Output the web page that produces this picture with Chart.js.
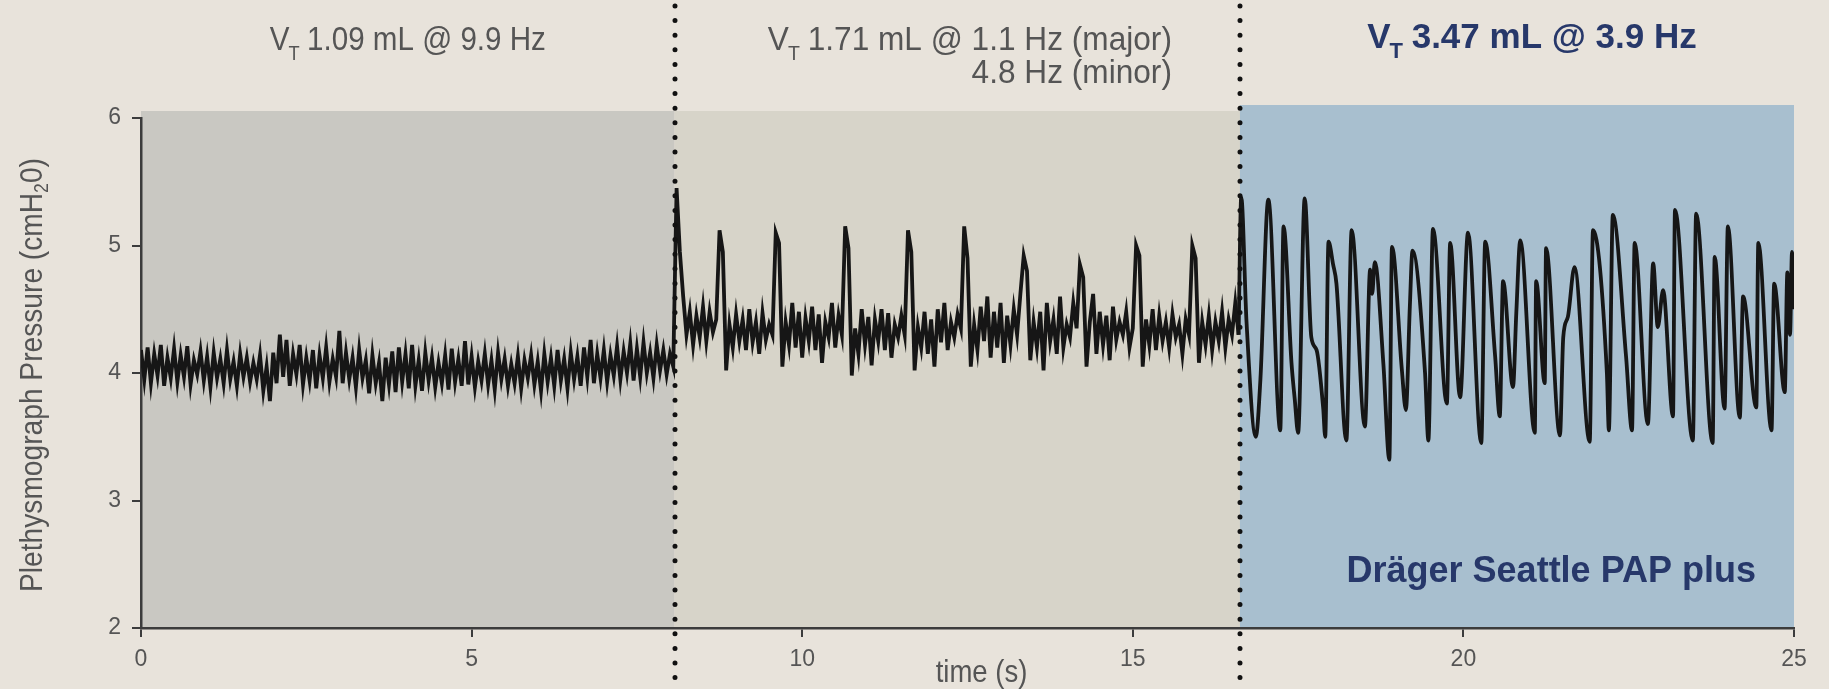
<!DOCTYPE html>
<html>
<head>
<meta charset="utf-8">
<script src="https://cdn.jsdelivr.net/npm/chart.js@4.4.1/dist/chart.umd.min.js"></script>
<style>
  html, body { margin: 0; padding: 0; background: #e8e3db; }
  #wrap { width: 1829px; height: 689px; }
</style>
</head>
<body>
<div id="wrap"><canvas id="plot" width="1829" height="689"></canvas></div>
<script>
// ---- data ----
// segment 1: 1.09 mL @ 9.9 Hz, one sample every 0.05 s from t = 0
const seg1Start = 0;
const seg1Step = 0.05;
const seg1Values = [
  4.18, 3.95, 4.20, 3.92, 4.15, 3.98, 4.22, 3.90, 4.12, 3.96,
  4.19, 3.93, 4.14, 3.97, 4.21, 3.91, 4.10, 3.99, 4.17, 3.94,
  4.13, 3.89, 4.16, 3.96, 4.11, 3.92, 4.18, 3.95, 4.09, 3.90,
  4.15, 3.97, 4.12, 3.93, 4.08, 3.95, 4.14, 3.86, 4.05, 3.78,
  4.16, 3.92, 4.30, 3.97, 4.26, 3.90, 4.15, 3.99, 4.22, 3.91,
  4.12, 3.94, 4.18, 3.88, 4.14, 3.96, 4.20, 3.93, 4.11, 3.97,
  4.33, 3.92, 4.16, 3.95, 4.12, 3.89, 4.18, 3.96, 4.10, 3.84,
  4.14, 3.92, 4.08, 3.78, 4.12, 3.91, 4.17, 3.85, 4.20, 3.93,
  4.15, 3.88, 4.22, 3.90, 4.10, 3.86, 4.16, 3.94, 4.12, 3.89,
  4.08, 3.92, 4.14, 3.87, 4.19, 3.93, 4.11, 3.90, 4.25, 3.91,
  4.13, 3.89, 4.09, 3.94, 4.15, 3.91, 4.10, 3.87, 4.16, 3.95,
  4.11, 3.90, 4.07, 3.92, 4.13, 3.88, 4.10, 3.96, 4.14, 3.91,
  4.09, 3.86, 4.15, 3.93, 4.12, 3.90, 4.18, 3.94, 4.11, 3.88,
  4.16, 3.95, 4.13, 3.90, 4.20, 3.97, 4.26, 3.92, 4.15, 3.96,
  4.18, 3.93, 4.14, 3.98, 4.21, 3.95, 4.17, 4.00, 4.23, 3.94,
  4.19, 3.97, 4.24, 4.00, 4.16, 3.96, 4.22, 4.02, 4.18, 3.99,
  4.15, 4.05
];

// segment 2: 1.71 mL, 1.1 Hz spikes on a 4.8 Hz ripple, one sample every 0.05 s
const seg2Start = 8.10;
const seg2Step = 0.05;
const seg2Values = [
  5.45, 4.95, 4.60, 4.30, 4.48, 4.22, 4.45, 4.28, 4.52, 4.25,
  4.48, 4.32, 4.42, 5.12, 4.95, 4.02, 4.38, 4.20, 4.46, 4.25,
  4.42, 4.18, 4.50, 4.24, 4.40, 4.15, 4.47, 4.26, 4.38, 4.30,
  5.10, 5.02, 4.05, 4.40, 4.22, 4.55, 4.20, 4.48, 4.12, 4.43,
  4.25, 4.52, 4.18, 4.46, 4.08, 4.40, 4.28, 4.55, 4.20, 4.45,
  4.30, 5.15, 4.98, 3.98, 4.35, 4.15, 4.50, 4.22, 4.44, 4.06,
  4.42, 4.25, 4.50, 4.18, 4.47, 4.12, 4.38, 4.28, 4.45, 4.30,
  5.12, 4.95, 4.02, 4.36, 4.20, 4.48, 4.15, 4.42, 4.05, 4.50,
  4.24, 4.55, 4.18, 4.40, 4.28, 4.46, 4.35, 5.15, 4.90, 4.05,
  4.38, 4.18, 4.52, 4.25, 4.60, 4.12, 4.48, 4.20, 4.55, 4.08,
  4.45, 4.22, 4.50, 4.30, 4.62, 4.92, 4.80, 4.10, 4.40, 4.20,
  4.48, 4.02, 4.55, 4.25, 4.42, 4.15, 4.60, 4.20, 4.38, 4.28,
  4.55, 4.35, 4.85, 4.75, 4.05, 4.40, 4.62, 4.15, 4.48, 4.22,
  4.45, 4.10, 4.52, 4.26, 4.40, 4.30, 4.48, 4.20, 4.35, 5.00,
  4.92, 4.05, 4.42, 4.22, 4.50, 4.18, 4.45, 4.25, 4.40, 4.20,
  4.46, 4.28, 4.38, 4.15, 4.42, 4.30, 5.00, 4.90, 4.08, 4.40,
  4.22, 4.45, 4.18, 4.40, 4.25, 4.48, 4.20, 4.42, 4.30, 4.55, 4.30
];

// segment 3: 3.47 mL @ 3.9 Hz, peaks and troughs
const seg3Times = [
  16.64, 16.72, 16.86, 16.93, 17.05, 17.23, 17.28, 17.40, 17.45, 17.50,
  17.60, 17.70, 17.78, 17.88, 17.91, 17.96, 18.03, 18.08, 18.23, 18.31,
  18.51, 18.59, 18.62, 18.66, 18.79, 18.88, 18.92, 19.07, 19.13, 19.19,
  19.23, 19.42, 19.47, 19.54, 19.75, 19.80, 19.95, 20.07, 20.27, 20.33,
  20.48, 20.55, 20.60, 20.75, 20.80, 20.86, 21.08, 21.10, 21.23, 21.25,
  21.46, 21.51, 21.58, 21.68, 21.91, 21.96, 22.17, 22.20, 22.26, 22.46,
  22.55, 22.59, 22.79, 22.87, 22.94, 23.02, 23.17, 23.20, 23.47, 23.52,
  23.77, 23.80, 23.95, 24.00, 24.18, 24.23, 24.43, 24.46, 24.66, 24.70,
  24.86, 24.90, 24.94, 24.97, 25.00
];
const seg3Values = [
  5.38, 4.40, 3.50, 3.95, 5.36, 3.55, 5.15, 4.08, 3.79, 3.53,
  5.37, 4.28, 4.18, 3.72, 3.50, 5.03, 4.85, 4.70, 3.47, 5.12,
  3.58, 4.81, 4.62, 4.87, 4.07, 3.32, 4.99, 4.02, 3.71, 4.52,
  4.96, 4.00, 3.47, 5.13, 3.76, 5.02, 3.81, 5.10, 3.45, 5.03,
  4.13, 3.66, 4.72, 3.89, 4.47, 5.04, 3.53, 4.72, 3.92, 4.98,
  3.51, 4.28, 4.44, 4.83, 3.46, 5.12, 4.00, 3.55, 5.24, 4.13,
  3.55, 5.02, 3.60, 4.86, 4.36, 4.65, 3.66, 5.28, 3.47, 5.25,
  3.45, 4.91, 3.72, 5.15, 3.65, 4.60, 3.73, 5.02, 3.55, 4.70,
  3.85, 4.79, 4.30, 4.95, 4.50
];

// mode changes (s)
const boundaries = [8.07, 16.62];

const FONT = '"Liberation Sans", Arial, sans-serif';
const GREY_TEXT = '#555555';
const NAVY = '#27386a';
const SQUEEZE = 0.88; // the grey labels use a condensed face

// build point lists
let noisePts = [];
for (let i = 0; i < seg1Values.length; i++) {
  noisePts.push({ x: seg1Start + i * seg1Step, y: seg1Values[i] });
}
for (let i = 0; i < seg2Values.length; i++) {
  noisePts.push({ x: seg2Start + i * seg2Step, y: seg2Values[i] });
}
let oscPts = [noisePts[noisePts.length - 1]];
for (let i = 0; i < seg3Times.length; i++) {
  oscPts.push({ x: seg3Times[i], y: seg3Values[i] });
}

// write text squeezed horizontally by sx
function squeezedText(ctx, txt, x, y, font, sx, align) {
  ctx.font = font;
  const w = ctx.measureText(txt).width * sx;
  let x0 = x;
  if (align === 'center') x0 = x - w / 2;
  if (align === 'right') x0 = x - w;
  ctx.save();
  ctx.translate(x0, y);
  ctx.scale(sx, 1);
  ctx.textAlign = 'left';
  ctx.fillText(txt, 0, 0);
  ctx.restore();
}

// V with subscript T, then the rest of the label
function drawVT(ctx, rest, x, y, size, weight, sx, color, align) {
  const big = weight + ' ' + size + 'px ' + FONT;
  const small = weight + ' ' + Math.round(size * 0.62) + 'px ' + FONT;
  ctx.font = big;
  const wV = ctx.measureText('V').width;
  const wR = ctx.measureText(' ' + rest).width;
  ctx.font = small;
  const wT = ctx.measureText('T').width;
  const total = (wV + wT + wR - 2) * sx;
  let x0 = x;
  if (align === 'center') x0 = x - total / 2;
  if (align === 'right') x0 = x - total;
  const base = y + size * 0.36;
  ctx.save();
  ctx.translate(x0, base);
  ctx.scale(sx, 1);
  ctx.fillStyle = color;
  ctx.textAlign = 'left';
  ctx.textBaseline = 'alphabetic';
  ctx.font = big;
  ctx.fillText('V', 0, 0);
  ctx.font = small;
  ctx.fillText('T', wV - 1, size * 0.3);
  ctx.font = big;
  ctx.fillText(' ' + rest, wV + wT - 2, 0);
  ctx.restore();
}

const decor = {
  id: 'decor',
  beforeDraw(chart) {
    const ctx = chart.ctx;
    const a = chart.chartArea;
    const x = chart.scales.x;
    const b1 = x.getPixelForValue(boundaries[0]);
    const b2 = x.getPixelForValue(boundaries[1]);
    ctx.save();
    ctx.fillStyle = '#e8e3db';
    ctx.fillRect(0, 0, chart.width, chart.height);
    ctx.fillStyle = '#c9c8c2';
    ctx.fillRect(a.left, a.top - 7, b1 - a.left, a.bottom - a.top + 7);
    ctx.fillStyle = '#d7d4c9';
    ctx.fillRect(b1, a.top - 7, b2 - b1, a.bottom - a.top + 7);
    ctx.fillStyle = '#a8bfcf';
    ctx.fillRect(b2, a.top - 13, a.right - b2, a.bottom - a.top + 13);
    ctx.restore();
  },
  afterDatasetsDraw(chart) {
    const ctx = chart.ctx;
    const x = chart.scales.x;
    ctx.save();
    ctx.strokeStyle = '#111111';
    ctx.lineWidth = 5;
    ctx.lineCap = 'round';
    ctx.setLineDash([0, 14.6]);
    boundaries.forEach(function (b) {
      const px = Math.round(x.getPixelForValue(b));
      ctx.beginPath();
      ctx.moveTo(px, 6);
      ctx.lineTo(px, chart.height);
      ctx.stroke();
    });
    ctx.restore();
  },
  afterDraw(chart) {
    const ctx = chart.ctx;
    const a = chart.chartArea;
    const x = chart.scales.x;
    const b1 = x.getPixelForValue(boundaries[0]);
    const b2 = x.getPixelForValue(boundaries[1]);
    ctx.save();
    // headers
    drawVT(ctx, '1.09 mL @ 9.9 Hz', (a.left + b1) / 2, 38, 34, '400', 0.87, GREY_TEXT, 'center');
    drawVT(ctx, '1.71 mL @ 1.1 Hz (major)', b2 - 68, 38, 34, '400', 0.93, GREY_TEXT, 'right');
    ctx.fillStyle = GREY_TEXT;
    ctx.textBaseline = 'middle';
    squeezedText(ctx, '4.8 Hz (minor)', b2 - 68, 74, '400 34px ' + FONT, 0.93, 'right');
    drawVT(ctx, '3.47 mL @ 3.9 Hz', (b2 + a.right) / 2 + 15, 35, 35, 'bold', 1, NAVY, 'center');

    // device label
    ctx.font = 'bold 36px ' + FONT;
    ctx.fillStyle = NAVY;
    ctx.textAlign = 'right';
    ctx.textBaseline = 'middle';
    ctx.fillText('Dräger Seattle PAP plus', a.right - 38, 572);

    // x title
    ctx.fillStyle = GREY_TEXT;
    squeezedText(ctx, 'time (s)', (a.left + a.right) / 2 + 14, 673, '400 32px ' + FONT, 0.86, 'center');

    // y title with subscript 2
    ctx.translate(31, (a.top + a.bottom) / 2 + 2);
    ctx.rotate(-Math.PI / 2);
    ctx.scale(SQUEEZE, 1);
    const p1 = 'Plethysmograph Pressure (cmH';
    const p3 = '0)';
    ctx.font = '400 32px ' + FONT;
    const w1 = ctx.measureText(p1).width;
    const w3 = ctx.measureText(p3).width;
    ctx.font = '400 20px ' + FONT;
    const w2 = ctx.measureText('2').width;
    let sx = -(w1 + w2 + w3) / 2;
    ctx.textAlign = 'left';
    ctx.textBaseline = 'alphabetic';
    ctx.font = '400 32px ' + FONT;
    ctx.fillText(p1, sx, 11);
    ctx.font = '400 20px ' + FONT;
    ctx.fillText('2', sx + w1, 17);
    ctx.font = '400 32px ' + FONT;
    ctx.fillText(p3, sx + w1 + w2, 11);
    ctx.restore();
  }
};

const axisColor = '#3c3c3c';

new Chart(document.getElementById('plot').getContext('2d'), {
  type: 'scatter',
  data: {
    datasets: [
      {
        data: noisePts,
        showLine: true,
        borderColor: '#161616',
        borderWidth: 3.8,
        pointRadius: 0,
        tension: 0
      },
      {
        data: oscPts,
        showLine: true,
        borderColor: '#161616',
        borderWidth: 3.8,
        pointRadius: 0,
        cubicInterpolationMode: 'monotone'
      }
    ]
  },
  options: {
    responsive: false,
    animation: false,
    devicePixelRatio: 1,
    layout: { padding: { left: 0, top: 118, right: 35, bottom: 0 } },
    plugins: {
      legend: { display: false },
      tooltip: { enabled: false }
    },
    scales: {
      x: {
        type: 'linear',
        min: 0,
        max: 25,
        ticks: {
          stepSize: 5,
          color: GREY_TEXT,
          font: { family: FONT, size: 23 },
          padding: 9,
          maxRotation: 0
        },
        grid: {
          drawOnChartArea: false,
          drawTicks: true,
          tickLength: 9,
          color: axisColor,
          lineWidth: 2
        },
        border: { display: true, color: axisColor, width: 2.5 },
        afterFit: function (scale) { scale.height = 61; }
      },
      y: {
        min: 2,
        max: 6,
        ticks: {
          stepSize: 1,
          color: GREY_TEXT,
          font: { family: FONT, size: 23 },
          padding: 11
        },
        grid: {
          drawOnChartArea: false,
          drawTicks: true,
          tickLength: 9,
          color: axisColor,
          lineWidth: 2
        },
        border: { display: true, color: axisColor, width: 2.5 },
        afterFit: function (scale) { scale.width = 141; }
      }
    }
  },
  plugins: [decor]
});
</script>
</body>
</html>
